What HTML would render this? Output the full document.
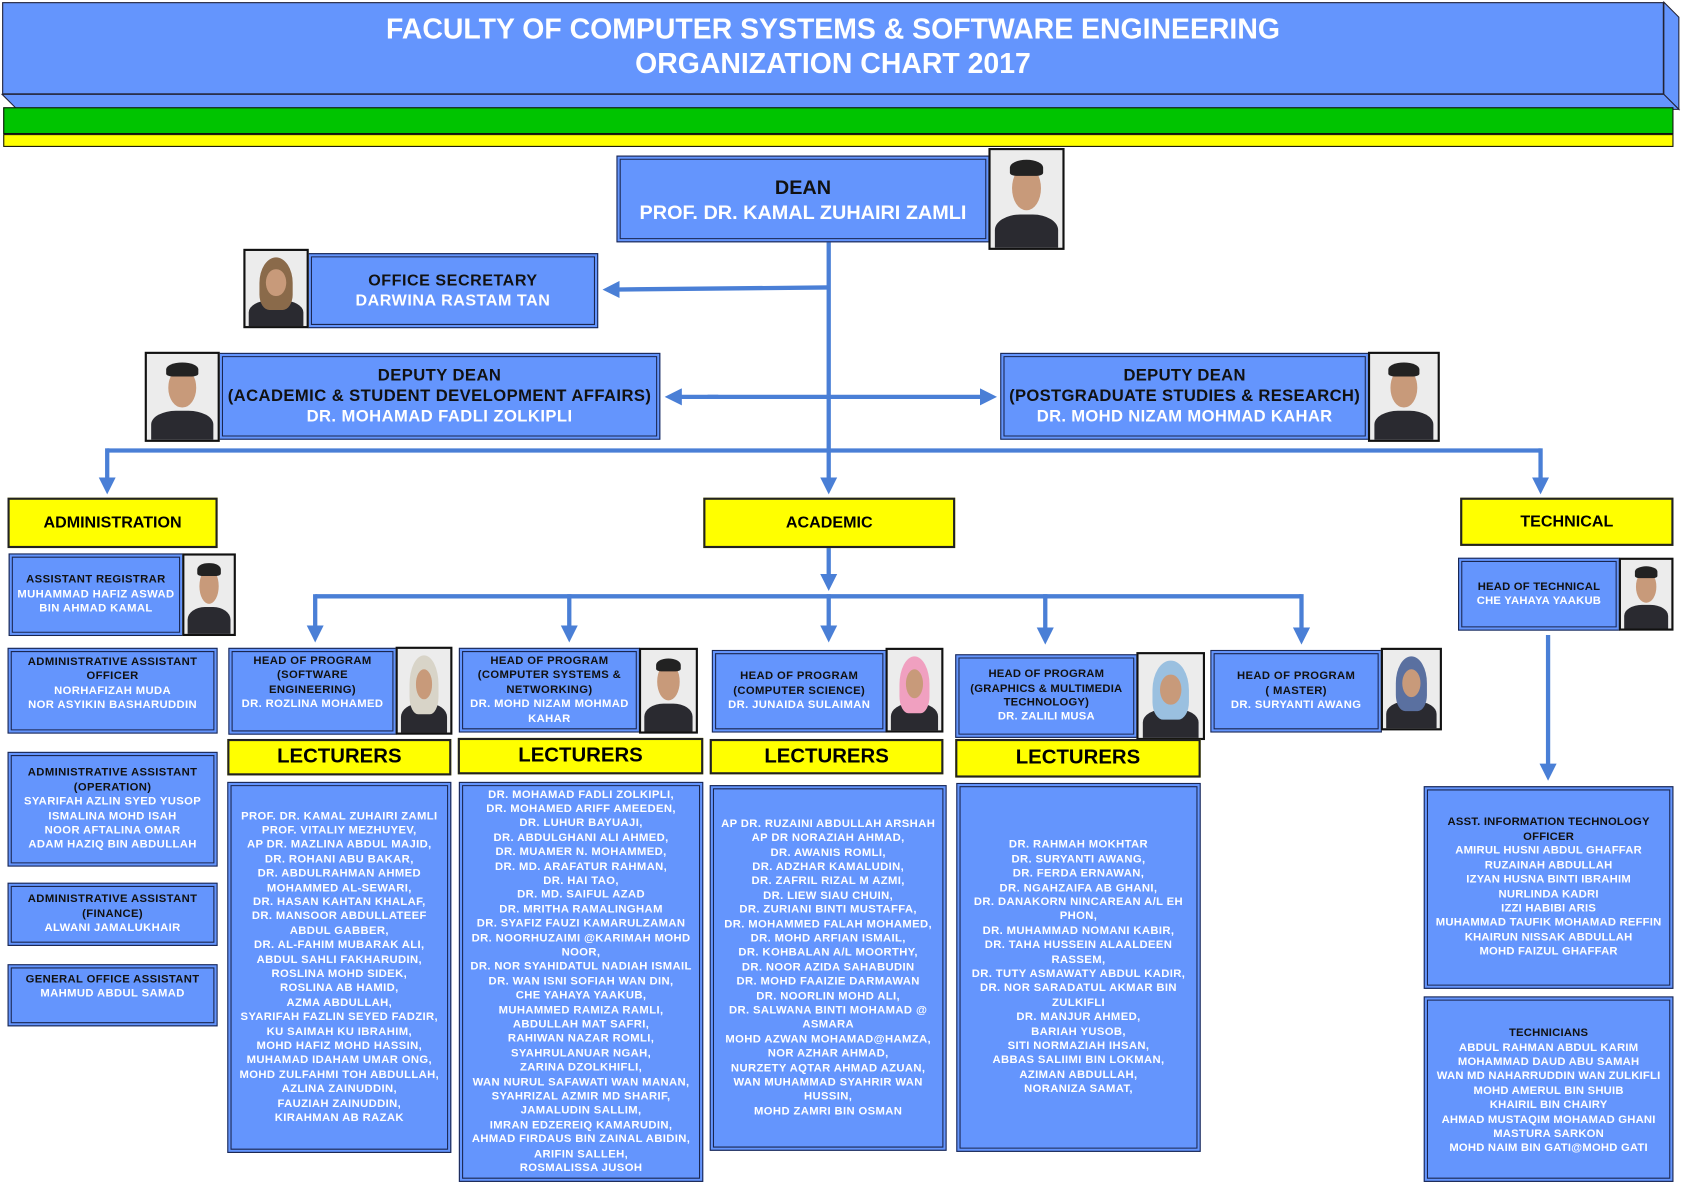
<!DOCTYPE html>
<html><head><meta charset="utf-8">
<style>
html,body{margin:0;padding:0;background:#fff;width:1681px;height:1183px;overflow:hidden}
#w{position:absolute;left:0;top:0;width:1568px;height:1103px;transform:scale(1.07207,1.07253);transform-origin:0 0;font-family:"Liberation Sans",Arial,sans-serif;font-weight:bold}
.b{position:absolute;background:#6495fd;border:1px solid #1a2650;box-shadow:inset 0 0 0 2px #6495fd,inset 0 0 0 3px #1a2650;box-sizing:border-box;display:flex;flex-direction:column;justify-content:center;align-items:center;text-align:center;color:#fff;font-size:10.5px;line-height:13.4px;letter-spacing:0.35px;white-space:nowrap}
.y{position:absolute;background:#ffff00;border:2px solid #222;box-sizing:border-box;display:flex;justify-content:center;align-items:center;color:#000;font-size:15px}
.k{color:#111}
.p{position:absolute;border:2px solid #111;box-sizing:border-box;background:#ececec;overflow:hidden}
.p .h{position:absolute;left:30%;top:16%;width:40%;height:46%;border-radius:50%;background:#c89a7a}
.p .hr{position:absolute;left:27%;top:10%;width:46%;height:26%;border-radius:50% 50% 20% 20%;background:#222}
.p .s{position:absolute;left:6%;top:66%;width:88%;height:40%;border-radius:40% 40% 0 0;background:#2a2a30}
.p.f .hr{background:#8a6a4a;height:70%;top:8%;left:22%;width:56%;border-radius:50% 50% 30% 30%}
.p.f .h{z-index:2;left:34%;width:32%;top:24%;height:36%}
svg{position:absolute;left:0;top:0}
</style></head><body><div id="w">
<!-- header -->
<div style="position:absolute;left:2px;top:2px;width:1550px;height:86px;background:#6495fd;border:1px solid #223;box-sizing:border-box"></div>
<svg width="1568" height="140"><polygon points="1552,2 1566,16 1566,102 1552,88" fill="#6495fd" stroke="#223"/><polygon points="2,88 1552,88 1566,102 16,102" fill="#6495fd" stroke="#223"/></svg>
<div style="position:absolute;left:2px;top:11px;width:1550px;text-align:center;color:#fff;font-size:26.5px;line-height:32px">FACULTY OF COMPUTER SYSTEMS &amp; SOFTWARE ENGINEERING<br>ORGANIZATION CHART 2017</div>
<div style="position:absolute;left:3px;top:100px;width:1558px;height:25px;background:#00c400;border:1.5px solid #111;box-sizing:border-box"></div>
<div style="position:absolute;left:3px;top:125px;width:1558px;height:12px;background:#ffff00;border:1.5px solid #111;box-sizing:border-box"></div>

<svg width="1568" height="1103">
<defs><marker id="a" markerWidth="4" markerHeight="4" refX="2.5" refY="2" orient="auto"><path d="M0,0 L4,2 L0,4z" fill="#4a7fd6"/></marker></defs>
<g stroke="#4a7fd6" stroke-width="4" fill="none">
<line x1="773" y1="226" x2="773" y2="455" marker-end="url(#a)"/>
<line x1="773" y1="268" x2="568" y2="270" marker-end="url(#a)"/>
<line x1="670" y1="370" x2="626" y2="370" marker-end="url(#a)"/>
<line x1="660" y1="370" x2="924" y2="370" marker-end="url(#a)"/>
<line x1="100" y1="420" x2="1437" y2="420"/>
<line x1="100" y1="418" x2="100" y2="455" marker-end="url(#a)"/>
<line x1="1437" y1="418" x2="1437" y2="455" marker-end="url(#a)"/>
<line x1="773" y1="510" x2="773" y2="545" marker-end="url(#a)"/>
<line x1="294" y1="556" x2="1214" y2="556"/>
<line x1="294" y1="554" x2="294" y2="593" marker-end="url(#a)"/>
<line x1="531" y1="554" x2="531" y2="593" marker-end="url(#a)"/>
<line x1="773" y1="554" x2="773" y2="593" marker-end="url(#a)"/>
<line x1="975" y1="554" x2="975" y2="595" marker-end="url(#a)"/>
<line x1="1214" y1="554" x2="1214" y2="595" marker-end="url(#a)"/>
<line x1="1444" y1="592" x2="1444" y2="722" marker-end="url(#a)"/>
</g></svg>

<!-- dean -->
<div class="b" style="left:575px;top:145px;width:348px;height:81px;font-size:18.5px;line-height:23px;letter-spacing:0"><span class="k">DEAN</span>PROF. DR. KAMAL ZUHAIRI ZAMLI</div>
<div class="p" style="left:922px;top:138px;width:71px;height:95px"><div class="s"></div><div class="h"></div><div class="hr" style="height:16%"></div></div>
<div class="b" style="left:287px;top:236px;width:271px;height:70px;font-size:15px;line-height:19px;letter-spacing:0.5px"><span class="k">OFFICE SECRETARY</span>DARWINA RASTAM TAN</div>
<div class="p f" style="left:227px;top:232px;width:61px;height:74px"><div class="s"></div><div class="hr"></div><div class="h"></div></div>
<div class="b" style="left:204px;top:329px;width:412px;height:81px;font-size:15.5px;line-height:19px;letter-spacing:0.4px"><span class="k">DEPUTY DEAN<br>(ACADEMIC &amp; STUDENT DEVELOPMENT AFFAIRS)</span>DR. MOHAMAD FADLI ZOLKIPLI</div>
<div class="p" style="left:135px;top:328px;width:70px;height:84px"><div class="s"></div><div class="h"></div><div class="hr" style="height:16%"></div></div>
<div class="b" style="left:933px;top:329px;width:344px;height:81px;font-size:15.5px;line-height:19px;letter-spacing:0.3px"><span class="k">DEPUTY DEAN<br>(POSTGRADUATE STUDIES &amp; RESEARCH)</span>DR. MOHD NIZAM MOHMAD KAHAR</div>
<div class="p" style="left:1276px;top:328px;width:67px;height:84px"><div class="s"></div><div class="h"></div><div class="hr" style="height:16%"></div></div>

<div class="y" style="left:7px;top:464px;width:196px;height:47px">ADMINISTRATION</div>
<div class="y" style="left:656px;top:464px;width:235px;height:47px">ACADEMIC</div>
<div class="y" style="left:1362px;top:464px;width:199px;height:45px">TECHNICAL</div>

<!-- admin -->
<div class="b" style="left:8px;top:516px;width:163px;height:77px"><span class="k">ASSISTANT REGISTRAR</span>MUHAMMAD HAFIZ ASWAD<br>BIN AHMAD KAMAL</div>
<div class="p" style="left:170px;top:516px;width:50px;height:77px"><div class="s"></div><div class="h"></div><div class="hr" style="height:16%"></div></div>
<div class="b" style="left:7px;top:604px;width:196px;height:80px;justify-content:flex-start;padding-top:6px"><span class="k">ADMINISTRATIVE ASSISTANT<br>OFFICER</span>NORHAFIZAH MUDA<br>NOR ASYIKIN BASHARUDDIN</div>
<div class="b" style="left:7px;top:701px;width:196px;height:107px"><span class="k">ADMINISTRATIVE ASSISTANT<br>(OPERATION)</span>SYARIFAH AZLIN SYED YUSOP<br>ISMALINA MOHD ISAH<br>NOOR AFTALINA OMAR<br>ADAM HAZIQ BIN ABDULLAH</div>
<div class="b" style="left:7px;top:823px;width:196px;height:59px"><span class="k">ADMINISTRATIVE ASSISTANT<br>(FINANCE)</span>ALWANI JAMALUKHAIR</div>
<div class="b" style="left:7px;top:899px;width:196px;height:58px;justify-content:flex-start;padding-top:7px"><span class="k">GENERAL OFFICE ASSISTANT</span>MAHMUD ABDUL SAMAD</div>

<!-- HOPs -->
<div class="b" style="left:213px;top:604px;width:157px;height:81px;justify-content:flex-start;padding-top:5px"><span class="k">HEAD OF PROGRAM<br>(SOFTWARE<br>ENGINEERING)</span>DR. ROZLINA MOHAMED</div>
<div class="p f" style="left:369px;top:603px;width:53px;height:82px"><div class="s"></div><div class="hr" style="background:#d8d4c8"></div><div class="h"></div></div>
<div class="b" style="left:428px;top:604px;width:169px;height:79px"><span class="k">HEAD OF PROGRAM<br>(COMPUTER SYSTEMS &amp;<br>NETWORKING)</span>DR. MOHD NIZAM MOHMAD<br>KAHAR</div>
<div class="p" style="left:596px;top:604px;width:55px;height:80px"><div class="s"></div><div class="h"></div><div class="hr" style="height:16%"></div></div>
<div class="b" style="left:664px;top:606px;width:163px;height:77px"><span class="k">HEAD OF PROGRAM<br>(COMPUTER SCIENCE)</span>DR. JUNAIDA SULAIMAN</div>
<div class="p f" style="left:826px;top:604px;width:54px;height:79px"><div class="s"></div><div class="hr" style="background:#f0a0c0"></div><div class="h"></div></div>
<div class="b" style="left:891px;top:610px;width:170px;height:78px;letter-spacing:0.2px"><span class="k">HEAD OF PROGRAM<br>(GRAPHICS &amp; MULTIMEDIA<br>TECHNOLOGY)</span>DR. ZALILI MUSA</div>
<div class="p f" style="left:1060px;top:608px;width:64px;height:82px"><div class="s"></div><div class="hr" style="background:#9ac0e0"></div><div class="h"></div></div>
<div class="b" style="left:1129px;top:606px;width:160px;height:77px"><span class="k">HEAD OF PROGRAM<br>( MASTER)</span>DR. SURYANTI AWANG</div>
<div class="p f" style="left:1288px;top:604px;width:57px;height:77px"><div class="s"></div><div class="hr" style="background:#5a70a0"></div><div class="h"></div></div>

<div class="y" style="left:212px;top:689px;width:209px;height:34px;font-size:19px">LECTURERS</div>
<div class="y" style="left:427px;top:688px;width:229px;height:34px;font-size:19px">LECTURERS</div>
<div class="y" style="left:662px;top:689px;width:218px;height:33px;font-size:19px">LECTURERS</div>
<div class="y" style="left:891px;top:689px;width:229px;height:36px;font-size:19px">LECTURERS</div>

<div class="b" style="left:212px;top:729px;width:209px;height:346px">PROF. DR. KAMAL ZUHAIRI ZAMLI<br>PROF. VITALIY MEZHUYEV,<br>AP DR. MAZLINA ABDUL MAJID,<br>DR. ROHANI ABU BAKAR,<br>DR. ABDULRAHMAN AHMED<br>MOHAMMED AL-SEWARI,<br>DR. HASAN KAHTAN KHALAF,<br>DR. MANSOOR ABDULLATEEF<br>ABDUL GABBER,<br>DR. AL-FAHIM MUBARAK ALI,<br>ABDUL SAHLI FAKHARUDIN,<br>ROSLINA MOHD SIDEK,<br>ROSLINA AB HAMID,<br>AZMA ABDULLAH,<br>SYARIFAH FAZLIN SEYED FADZIR,<br>KU SAIMAH KU IBRAHIM,<br>MOHD HAFIZ MOHD HASSIN,<br>MUHAMAD IDAHAM UMAR ONG,<br>MOHD ZULFAHMI TOH ABDULLAH,<br>AZLINA ZAINUDDIN,<br>FAUZIAH ZAINUDDIN,<br>KIRAHMAN AB RAZAK</div>
<div class="b" style="left:428px;top:729px;width:228px;height:373px">DR. MOHAMAD FADLI ZOLKIPLI,<br>DR. MOHAMED ARIFF AMEEDEN,<br>DR. LUHUR BAYUAJI,<br>DR. ABDULGHANI ALI AHMED,<br>DR. MUAMER N. MOHAMMED,<br>DR. MD. ARAFATUR RAHMAN,<br>DR. HAI TAO,<br>DR. MD. SAIFUL AZAD<br>DR. MRITHA RAMALINGHAM<br>DR. SYAFIZ FAUZI KAMARULZAMAN<br>DR. NOORHUZAIMI @KARIMAH MOHD<br>NOOR,<br>DR. NOR SYAHIDATUL NADIAH ISMAIL<br>DR. WAN ISNI SOFIAH WAN DIN,<br>CHE YAHAYA YAAKUB,<br>MUHAMMED RAMIZA RAMLI,<br>ABDULLAH MAT SAFRI,<br>RAHIWAN NAZAR ROMLI,<br>SYAHRULANUAR NGAH,<br>ZARINA DZOLKHIFLI,<br>WAN NURUL SAFAWATI WAN MANAN,<br>SYAHRIZAL AZMIR MD SHARIF,<br>JAMALUDIN SALLIM,<br>IMRAN EDZEREIQ KAMARUDIN,<br>AHMAD FIRDAUS BIN ZAINAL ABIDIN,<br>ARIFIN SALLEH,<br>ROSMALISSA JUSOH</div>
<div class="b" style="left:662px;top:732px;width:221px;height:341px">AP DR. RUZAINI ABDULLAH ARSHAH<br>AP DR NORAZIAH AHMAD,<br>DR. AWANIS ROMLI,<br>DR. ADZHAR KAMALUDIN,<br>DR. ZAFRIL RIZAL M AZMI,<br>DR. LIEW SIAU CHUIN,<br>DR. ZURIANI BINTI MUSTAFFA,<br>DR. MOHAMMED FALAH MOHAMED,<br>DR. MOHD ARFIAN ISMAIL,<br>DR. KOHBALAN A/L MOORTHY,<br>DR. NOOR AZIDA SAHABUDIN<br>DR. MOHD FAAIZIE DARMAWAN<br>DR. NOORLIN MOHD ALI,<br>DR. SALWANA BINTI MOHAMAD @<br>ASMARA<br>MOHD AZWAN MOHAMAD@HAMZA,<br>NOR AZHAR AHMAD,<br>NURZETY AQTAR AHMAD AZUAN,<br>WAN MUHAMMAD SYAHRIR WAN<br>HUSSIN,<br>MOHD ZAMRI BIN OSMAN</div>
<div class="b" style="left:892px;top:730px;width:228px;height:344px">DR. RAHMAH MOKHTAR<br>DR. SURYANTI AWANG,<br>DR. FERDA ERNAWAN,<br>DR. NGAHZAIFA AB GHANI,<br>DR. DANAKORN NINCAREAN A/L EH<br>PHON,<br>DR. MUHAMMAD NOMANI KABIR,<br>DR. TAHA HUSSEIN ALAALDEEN<br>RASSEM,<br>DR. TUTY ASMAWATY ABDUL KADIR,<br>DR. NOR SARADATUL AKMAR BIN<br>ZULKIFLI<br>DR. MANJUR AHMED,<br>BARIAH YUSOB,<br>SITI NORMAZIAH IHSAN,<br>ABBAS SALIIMI BIN LOKMAN,<br>AZIMAN ABDULLAH,<br>NORANIZA SAMAT,</div>

<!-- technical -->
<div class="b" style="left:1360px;top:520px;width:151px;height:68px;letter-spacing:0.2px"><span class="k">HEAD OF TECHNICAL</span>CHE YAHAYA YAAKUB</div>
<div class="p" style="left:1510px;top:520px;width:51px;height:68px"><div class="s"></div><div class="h"></div><div class="hr" style="height:16%"></div></div>
<div class="b" style="left:1328px;top:733px;width:233px;height:189px;letter-spacing:0.2px"><span class="k">ASST. INFORMATION TECHNOLOGY<br>OFFICER</span>AMIRUL HUSNI ABDUL GHAFFAR<br>RUZAINAH ABDULLAH<br>IZYAN HUSNA BINTI IBRAHIM<br>NURLINDA KADRI<br>IZZI HABIBI ARIS<br>MUHAMMAD TAUFIK MOHAMAD REFFIN<br>KHAIRUN NISSAK ABDULLAH<br>MOHD FAIZUL GHAFFAR</div>
<div class="b" style="left:1328px;top:929px;width:233px;height:173px;padding-top:4px;letter-spacing:0.2px"><span class="k">TECHNICIANS</span>ABDUL RAHMAN ABDUL KARIM<br>MOHAMMAD DAUD ABU SAMAH<br>WAN MD NAHARRUDDIN WAN ZULKIFLI<br>MOHD AMERUL BIN SHUIB<br>KHAIRIL BIN CHAIRY<br>AHMAD MUSTAQIM MOHAMAD GHANI<br>MASTURA SARKON<br>MOHD NAIM BIN GATI@MOHD GATI</div>
</div></body></html>
